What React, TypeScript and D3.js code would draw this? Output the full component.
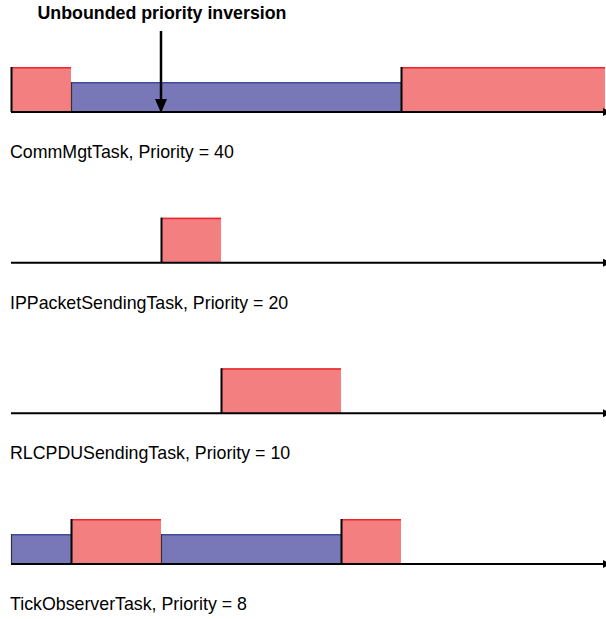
import React from "react";
import * as d3 from "d3";

const tasks = ["CommMgtTask", "IPPacketSendingTask", "RLCPDUSendingTask", "TickObserverTask"];
const priorities = [40, 20, 10, 8];

// segments: [taskIndex, start, end, state]
const segStarts = [0, 1, 6.5, 2.5, 3.5, 0, 1, 2.5, 5.5];
const segEnds = [1, 6.5, 9.9, 3.5, 5.5, 1, 2.5, 5.5, 6.5];
const segTask = [0, 0, 0, 1, 2, 3, 3, 3, 3];
const segState = ["run", "hold", "run", "run", "run", "hold", "run", "hold", "run"];

const title = "Unbounded priority inversion";
const inversionTime = 2.5;

const W = 606;
const H = 619;

export default function App() {
  const x = d3.scaleLinear().domain([0, 10]).range([11, 611]);
  const y = d3.scalePoint<string>().domain(tasks).range([112, 564]);
  const h = d3.scaleOrdinal<string, number>().domain(["run", "hold"]).range([45, 30]);
  const fill = d3.scaleOrdinal<string, string>().domain(["run", "hold"]).range(["#F47F80", "#7878B9"]);
  const topStroke = d3.scaleOrdinal<string, string>().domain(["run", "hold"]).range(["#E8262B", "#3F4C9C"]);
  const font = "Arial, 'Liberation Sans', Helvetica, sans-serif";

  const segs = segStarts.map((s, i) => ({
    task: tasks[segTask[i]],
    start: s,
    end: segEnds[i],
    state: segState[i],
  }));

  const ax = x(inversionTime);

  return (
    <svg
      width={W}
      height={H}
      style={{ position: "absolute", left: 0, top: 0, background: "#fff" }}
    >
      <defs>
        <marker id="axArrow" viewBox="0 0 10 10" refX="10" refY="5" markerWidth="8" markerHeight="8" markerUnits="userSpaceOnUse" orient="auto">
          <path d="M0,0 L10,5 L0,10 z" fill="#000" />
        </marker>
      </defs>
      {segs.map((s, i) => {
        const yb = y(s.task)!;
        const x0 = x(s.start);
        const x1 = x(s.end);
        const hh = h(s.state);
        return (
          <g key={i}>
            <rect x={x0} y={yb - hh} width={x1 - x0} height={hh} fill={fill(s.state)} />
            <line x1={x0} x2={x1} y1={yb - hh + 0.75} y2={yb - hh + 0.75} stroke={topStroke(s.state)} strokeWidth={1.5} />
            <line
              x1={x0 + 0.5}
              x2={x0 + 0.5}
              y1={yb}
              y2={yb - hh}
              stroke={s.state === "run" ? "#000" : "#333"}
              strokeWidth={s.state === "run" ? 2 : 1.2}
            />
          </g>
        );
      })}
      {tasks.map((t, i) => {
        const yb = y(t)!;
        return (
          <g key={t}>
            <line x1={x(0)} x2={611} y1={yb} y2={yb} stroke="#000" strokeWidth={2} markerEnd="url(#axArrow)" />
            <text x={10} y={yb + 46} fontFamily={font} fontSize={17.8} fill="#000">
              {`${t}, Priority = ${priorities[i]}`}
            </text>
          </g>
        );
      })}
      <text x={162} y={18.5} textAnchor="middle" fontFamily={font} fontSize={17.8} fontWeight="bold" fill="#000">
        {title}
      </text>
      <line x1={ax} x2={ax} y1={31} y2={100} stroke="#000" strokeWidth={2.5} />
      <path d={`M${ax - 6},${99} L${ax + 6},${99} L${ax},${113} z`} fill="#000" />
    </svg>
  );
}
